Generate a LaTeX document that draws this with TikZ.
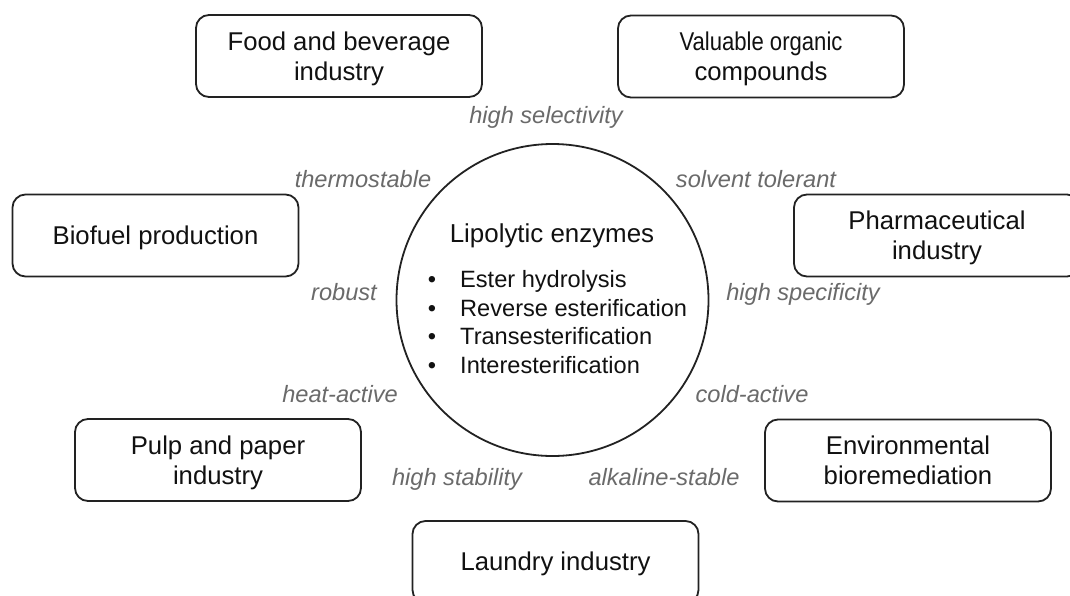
\documentclass[tikz,border=0pt]{standalone}
\usepackage{fontspec}
\setmainfont{Liberation Sans}
\definecolor{txt}{HTML}{111111}
\definecolor{lbl}{HTML}{6A6A6A}
\definecolor{edge}{HTML}{222222}
\newcommand{\twolines}[2]{\raisebox{0pt}[\dimexpr\height+6pt\relax]{\begin{tabular}{@{}c@{}}#1\\#2\end{tabular}}}
\newcommand{\oneline}[1]{\raisebox{0pt}[\dimexpr\height+4pt\relax]{#1}}
\begin{document}
\begin{tikzpicture}[x=1pt,y=-1pt,
  appbox/.style={draw=edge, line width=1.8pt, rounded corners=13pt, minimum width=286pt, minimum height=82pt, align=center, text=txt, inner sep=0pt, font=\fontsize{25.7}{30}\selectfont},
  prop/.style={anchor=base, text=lbl, inner sep=0pt, font=\fontsize{23.6}{27}\selectfont\itshape},
  item/.style={anchor=base west, text=txt, inner sep=0pt, font=\fontsize{23.6}{28}\selectfont},
  dot/.style={anchor=base, text=txt, inner sep=0pt, font=\fontsize{23.6}{28}\selectfont}]
\useasboundingbox (0,0) rectangle (1070,595);
\clip (0,0) rectangle (1070,595);
\fill[white] (0,0) rectangle (1070,595);
% central circle
\node[draw=edge, line width=1.8pt, circle, minimum size=312pt, inner sep=0pt] (enz) at (552.5,300) {};
\node[anchor=base, text=txt, inner sep=0pt, font=\fontsize{25.9}{30}\selectfont] (title) at (552,242) {Lipolytic enzymes};
\node[dot] (b1) at (432,287.5) {•};
\node[dot] (b2) at (432,316.2) {•};
\node[dot] (b3) at (432,344.9) {•};
\node[dot] (b4) at (432,373.6) {•};
\node[item] (i1) at (460,287.5) {Ester hydrolysis};
\node[item] (i2) at (460,316.2) {Reverse esterification};
\node[item] (i3) at (460,344.9) {Transesterification};
\node[item] (i4) at (460,373.6) {Interesterification};
% application boxes
\node[appbox] (food) at (339,56) {\twolines{Food and beverage}{industry}};
\node[appbox] (val) at (761,56.5) {\twolines{\scalebox{0.86}[1]{Valuable organic}}{compounds}};
\node[appbox] (bio) at (155.5,235.5) {\oneline{Biofuel production}};
\node[appbox] (pharma) at (937,235.5) {\twolines{Pharmaceutical}{industry}};
\node[appbox] (pulp) at (218,460) {\twolines{Pulp and paper}{industry}};
\node[appbox] (env) at (908,460.5) {\twolines{Environmental}{bioremediation}};
\node[appbox] (laundry) at (555.5,562) {\oneline{Laundry industry}};
% property labels
\node[prop] (p1) at (546,123) {high selectivity};
\node[prop] (p2) at (363,187) {thermostable};
\node[prop] (p3) at (756,187) {solvent tolerant};
\node[prop] (p4) at (344,300) {robust};
\node[prop] (p5) at (803,300) {high specificity};
\node[prop] (p6) at (340,402) {heat-active};
\node[prop] (p7) at (752,402) {cold-active};
\node[prop] (p8) at (457,485) {high stability};
\node[prop] (p9) at (664,485) {alkaline-stable};
\end{tikzpicture}
\end{document}
